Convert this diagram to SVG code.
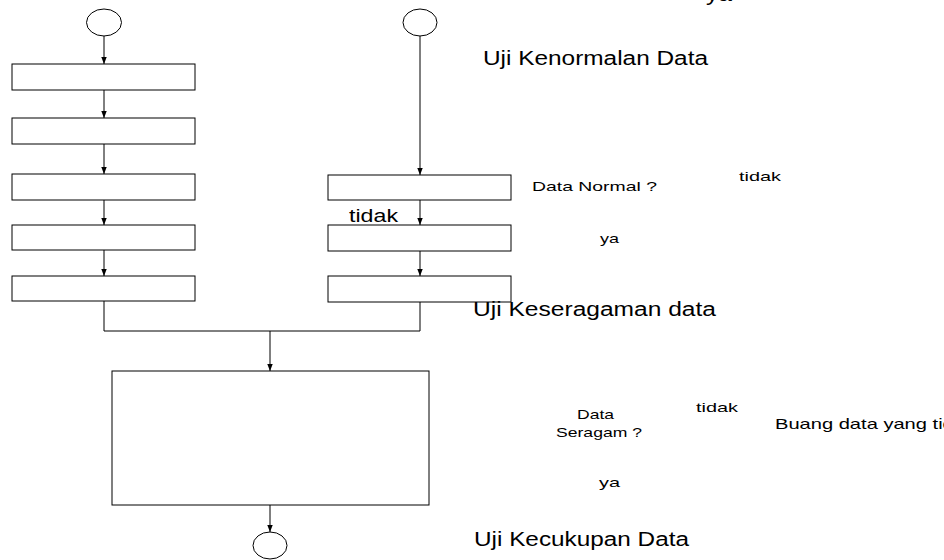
<svg xmlns="http://www.w3.org/2000/svg" width="944" height="560" viewBox="0 0 944 560">
<style>
.n{fill:#fff;stroke:#000;stroke-width:1}
.c{fill:none;stroke:#000;stroke-width:1}
.t{font-family:"Liberation Sans",Arial,sans-serif;fill:#000}
</style>
<defs>
<marker id="a" markerWidth="7" markerHeight="9" refX="9" refY="3.5" orient="auto" markerUnits="userSpaceOnUse" viewBox="0 0 9 7">
<path d="M0,0 L9,3.5 L0,7 Z" fill="#000"/>
</marker>
</defs>
<g id="connectors">
<line class="c" x1="104" y1="36" x2="104" y2="64" marker-end="url(#a)"/>
<line class="c" x1="104" y1="90" x2="104" y2="118" marker-end="url(#a)"/>
<line class="c" x1="104" y1="144" x2="104" y2="174" marker-end="url(#a)"/>
<line class="c" x1="104" y1="200" x2="104" y2="225" marker-end="url(#a)"/>
<line class="c" x1="104" y1="250" x2="104" y2="276" marker-end="url(#a)"/>
<line class="c" x1="420" y1="36" x2="420" y2="175" marker-end="url(#a)"/>
<line class="c" x1="420" y1="200" x2="420" y2="225" marker-end="url(#a)"/>
<line class="c" x1="420" y1="251" x2="420" y2="276" marker-end="url(#a)"/>
<polyline class="c" points="104,301 104,331 420,331 420,302"/>
<line class="c" x1="270" y1="331" x2="270" y2="371" marker-end="url(#a)"/>
<line class="c" x1="270" y1="505" x2="270" y2="532" marker-end="url(#a)"/>
</g>
<g id="start-left"><ellipse class="n" cx="104" cy="22.5" rx="17.5" ry="13.5"/></g>
<g id="box-l1"><rect class="n" x="12" y="64" width="183" height="26"/></g>
<g id="box-l2"><rect class="n" x="12" y="118" width="183" height="26"/></g>
<g id="box-l3"><rect class="n" x="12" y="174" width="183" height="26"/></g>
<g id="box-l4"><rect class="n" x="12" y="225" width="183" height="25"/></g>
<g id="box-l5"><rect class="n" x="12" y="276" width="183" height="25"/></g>
<g id="start-right"><ellipse class="n" cx="420" cy="22.5" rx="17" ry="13.5"/></g>
<g id="box-r1"><rect class="n" x="328" y="175" width="183" height="25"/></g>
<g id="box-r2"><rect class="n" x="328" y="225" width="183" height="26"/></g>
<g id="box-r3"><rect class="n" x="328" y="276" width="183" height="26"/></g>
<g id="box-main"><rect class="n" x="112" y="371" width="317" height="134"/></g>
<g id="end"><ellipse class="n" cx="270" cy="545.5" rx="17" ry="13.5"/></g>
<g id="labels">
<text class="t" x="706" y="1" font-size="20" textLength="26" lengthAdjust="spacingAndGlyphs">ya</text>
<text class="t" x="483" y="65" font-size="20" textLength="225" lengthAdjust="spacingAndGlyphs">Uji Kenormalan Data</text>
<text class="t" x="532" y="191" font-size="13.5" textLength="125" lengthAdjust="spacingAndGlyphs">Data Normal ?</text>
<text class="t" x="739" y="181" font-size="13.5" textLength="42" lengthAdjust="spacingAndGlyphs">tidak</text>
<text class="t" x="349" y="222" font-size="17.5" textLength="49" lengthAdjust="spacingAndGlyphs">tidak</text>
<text class="t" x="600" y="243" font-size="13.5" textLength="19" lengthAdjust="spacingAndGlyphs">ya</text>
<text class="t" x="473" y="316" font-size="20" textLength="243" lengthAdjust="spacingAndGlyphs">Uji Keseragaman data</text>
<text class="t" x="577" y="419" font-size="13.5" textLength="37" lengthAdjust="spacingAndGlyphs">Data</text>
<text class="t" x="556" y="437" font-size="13.5" textLength="86" lengthAdjust="spacingAndGlyphs">Seragam ?</text>
<text class="t" x="696" y="412" font-size="13.5" textLength="42" lengthAdjust="spacingAndGlyphs">tidak</text>
<text class="t" x="775" y="429" font-size="14.5" textLength="200" lengthAdjust="spacingAndGlyphs">Buang data yang tidak</text>
<text class="t" x="599" y="487" font-size="13.5" textLength="21" lengthAdjust="spacingAndGlyphs">ya</text>
<text class="t" x="474" y="546" font-size="20" textLength="215" lengthAdjust="spacingAndGlyphs">Uji Kecukupan Data</text>
</g>
</svg>
